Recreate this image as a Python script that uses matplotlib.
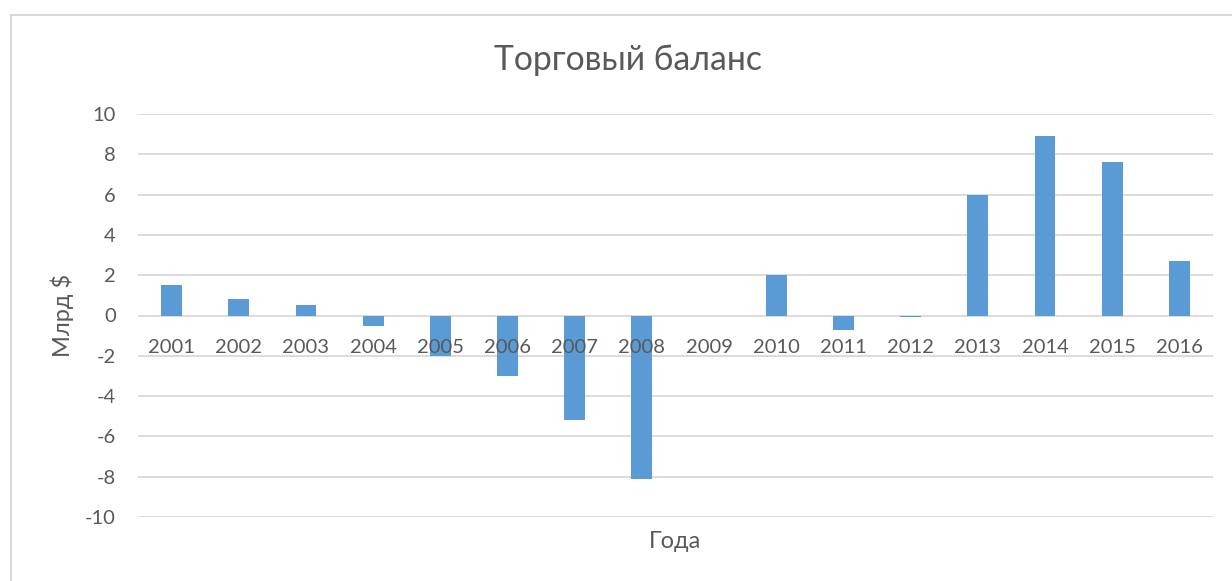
import matplotlib
matplotlib.use("Agg")
import matplotlib.pyplot as plt
from matplotlib.patches import Rectangle

# Font / colours
plt.rcParams['font.family'] = ['Lato', 'DejaVu Sans']
BARCOLOR = '#5B9BD5'
GRIDCOLOR = '#D9D9D9'
TEXTCOLOR = '#595959'

# Data
years = ['2001', '2002', '2003', '2004', '2005', '2006', '2007', '2008',
         '2009', '2010', '2011', '2012', '2013', '2014', '2015', '2016']
balance = [1.5, 0.8, 0.5, -0.5, -2.0, -3.0, -5.2, -8.1,
           0.0, 2.0, -0.7, -0.07, 6.0, 8.9, 7.6, 2.7]
yticks = [-10, -8, -6, -4, -2, 0, 2, 4, 6, 8, 10]

fig = plt.figure(figsize=(12.32, 5.81), dpi=100)
ax = fig.add_axes([138 / 1232, 1 - 517 / 581, 1075 / 1232, 403 / 581])

x = list(range(len(years)))
ax.bar(x, balance, width=0.31, color=BARCOLOR, zorder=3)

ax.set_xlim(-0.5, len(years) - 0.5)
ax.set_ylim(-10, 10)
ax.set_yticks(yticks)
ax.set_yticklabels([str(t) for t in yticks])
ax.grid(axis='y', color=GRIDCOLOR, linewidth=1.3, zorder=0)
ax.tick_params(axis='y', length=0, pad=16, labelsize=14.5, labelcolor=TEXTCOLOR)
ax.set_xticks([])
for s in ax.spines.values():
    s.set_visible(False)

# category labels sit just under the zero line (Excel style)
for xi, lab in zip(x, years):
    ax.text(xi, -1.6, lab, ha='center', va='center', fontsize=14.5, color=TEXTCOLOR, zorder=4)

ax.set_ylabel('Млрд $', fontsize=17, color=TEXTCOLOR, labelpad=8)
fig.text(675 / 1232, 1 - 541 / 581, 'Года', ha='center', va='center', fontsize=17, color=TEXTCOLOR)
fig.text(628 / 1232, 1 - 60 / 581, 'Торговый баланс', ha='center', va='center', fontsize=24.3, color=TEXTCOLOR)

# chart area border
fig.patches.append(Rectangle((10.5 / 1232, -0.1), 1.2, 1 - 14.5 / 581 + 0.1, transform=fig.transFigure,
                             fill=False, edgecolor=GRIDCOLOR, linewidth=1.5))

fig.savefig('out.png', dpi=100)
